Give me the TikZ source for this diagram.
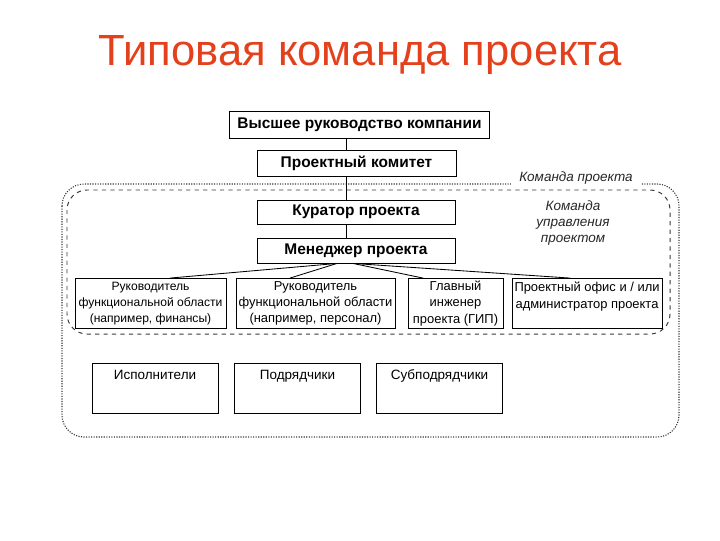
\documentclass[tikz,border=0pt]{standalone}
\usepackage{fontspec}
\setmainfont{Liberation Sans}
\usetikzlibrary{calc,positioning}
\definecolor{titleOrange}{HTML}{E4401B}
\definecolor{frameGrey}{HTML}{3A3A3A}

\begin{document}
\begin{tikzpicture}[x=0.025cm, y=-0.025cm,
        head/.style={font=\fontsize{31}{36}\selectfont, text=titleOrange},
        boss/.style={draw, fill=white, line width=0.6pt, inner sep=0pt,
                     font=\bfseries\fontsize{11}{13}\selectfont},
        unit/.style={draw, fill=white, line width=0.6pt, align=center, inner sep=0.5pt,
                     minimum height=1.25cm, font=\fontsize{9.2}{11.6}\selectfont},
        crew/.style={draw, fill=white, line width=0.6pt, minimum width=3.15cm, minimum height=1.25cm},
        crewtext/.style={font=\fontsize{9.6}{11.6}\selectfont, inner sep=0pt},
        note/.style={font=\itshape\fontsize{9.6}{11.6}\selectfont, align=center, text=black!85},
        link/.style={line width=0.6pt},
        teamframe/.style={draw=frameGrey, densely dotted, line width=0.8pt, rounded corners=0.55cm},
        mgmtframe/.style={draw=frameGrey, dashed, line width=0.7pt, rounded corners=0.5cm}
    ]
        \useasboundingbox (0,0) rectangle (720,540);

        \node[head] (title) at (360,55) {Типовая команда проекта};

        % frames of the team
        \draw[teamframe] (62,184) rectangle (679,437);
        \draw[mgmtframe] (67,190) rectangle (670,334);
        \node[note, fill=white, inner xsep=6pt, inner ysep=1pt] (teamlbl) at (576,178) {Команда проекта};
        \node[note] (mgmtlbl) at (573,223) {Команда\\управления\\проектом};

        % chain of command
        \node[boss, minimum width=6.5cm, minimum height=0.675cm] (top) at (359.5,124.5) {Высшее руководство компании};
        \node[boss, minimum width=4.975cm, minimum height=0.65cm] (committee) at (356.5,163) {Проектный комитет};
        \node[boss, minimum width=4.95cm, minimum height=0.6cm] (curator) at (356,212) {Куратор проекта};
        \node[boss, minimum width=4.95cm, minimum height=0.625cm] (manager) at (356,250.5) {Менеджер проекта};

        \coordinate (spine) at (346,0);
        \draw[link] (top.south -| spine) -- (committee.north -| spine);
        \draw[link] (committee.south -| spine) -- (curator.north -| spine);
        \draw[link] (curator.south -| spine) -- (manager.north -| spine);

        % functional row
        \node[unit, minimum width=3.775cm, font=\fontsize{8.6}{11.6}\selectfont] (finance) at (150.5,303.5)
            {Руководитель\\функциональной области\\(например, финансы)};
        \node[unit, minimum width=3.975cm] (staff) at (315.5,303.5)
            {Руководитель\\функциональной области\\(например, персонал)};
        \node[unit, minimum width=2.375cm] (chief) at (455.5,303.5)
            {Главный\\инженер\\проекта (ГИП)};
        \node[unit, minimum width=3.75cm] (office) at (587,303.5)
            {Проектный офис и / или\\администратор проекта\\~};

        \draw[link] ($(manager.south)+(-19,0)$) -- ($(finance.north)+(19.5,0)$);
        \draw[link] ($(manager.south)+(-19,0)$) -- ($(staff.north)+(-25.5,0)$);
        \draw[link] ($(manager.south)+(-3,0)$) -- ($(chief.north)+(-32.5,0)$);
        \draw[link] ($(manager.south)+(-3,0)$) -- ($(office.north)+(-17,0)$);

        % outside contractors
        \node[crew] (doers) at (155,388) {};
        \node[crew] (contractors) at (297.5,388) {};
        \node[crew] (subcontractors) at (439.5,388) {};
        \node[crewtext, below=5pt of doers.north] (doerslbl) {Исполнители};
        \node[crewtext, below=5pt of contractors.north] (contractorslbl) {Подрядчики};
        \node[crewtext, below=5pt of subcontractors.north] (subcontractorslbl) {Субподрядчики};
    \end{tikzpicture}
\end{document}
